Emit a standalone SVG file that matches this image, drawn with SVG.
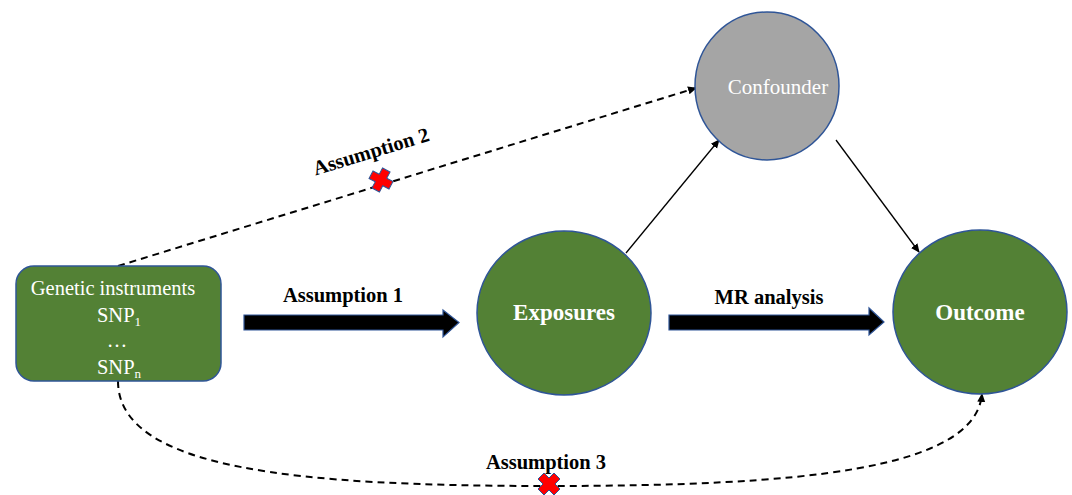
<svg xmlns="http://www.w3.org/2000/svg" width="1072" height="495" viewBox="0 0 1072 495">
<style>
.node{fill:#538135;stroke:#2F5597;stroke-width:1.5}
.conf{fill:#A5A5A5;stroke:#2F5597;stroke-width:1.5}
text{font-family:'Liberation Serif','Times New Roman',Times,'DejaVu Serif',serif}
.wt{fill:#fff;text-anchor:middle}
.lbl{fill:#000;font-weight:bold;font-size:20.5px;text-anchor:middle}
.dash{fill:none;stroke:#000;stroke-width:2;stroke-dasharray:7,5}
.thin{fill:none;stroke:#000;stroke-width:1.3}
.block{fill:#000;stroke:#2F5597;stroke-width:1.2}
.cross{fill:#FF0000;stroke:#2F5597;stroke-width:1}
</style>
<defs>
<marker id="ah" markerWidth="10" markerHeight="10" refX="8" refY="5" orient="auto" markerUnits="userSpaceOnUse">
<path d="M0,1 L9,5 L0,9 Z" fill="#000"/>
</marker>
<path id="x" d="M-5,-11 L0,-6 L5,-11 L11,-5 L6,0 L11,5 L5,11 L0,6 L-5,11 L-11,5 L-6,0 L-11,-5 Z"/>
</defs>
<rect width="1072" height="495" fill="#fff"/>
<g id="connectors">
<path class="dash" d="M118,266 L696,88" marker-end="url(#ah)"/>
<path class="dash" d="M118,381 C118,470 300,486 549,486 C800,486 975,470 982,394" marker-end="url(#ah)"/>
<path class="thin" d="M626,253 L719,140" marker-end="url(#ah)"/>
<path class="thin" d="M836,140 L919,252" marker-end="url(#ah)"/>
<path class="block" d="M244,315 L443,315 L443,310 L459,322.5 L443,337 L443,330 L244,330 Z"/>
<path class="block" d="M669,315 L869,315 L869,308 L884,322 L869,335 L869,330 L669,330 Z"/>
<use href="#x" class="cross" transform="translate(381,180) rotate(-17)"/>
<use href="#x" class="cross" transform="translate(549,484)"/>
<text class="lbl" x="343" y="302">Assumption 1</text>
<text class="lbl" x="769" y="304">MR analysis</text>
<text class="lbl" transform="translate(373,158) rotate(-17)">Assumption 2</text>
<text class="lbl" x="546" y="469">Assumption 3</text>
</g>
<g id="genetic">
<rect class="node" x="16" y="266" width="205" height="115" rx="18"/>
<text class="wt" font-size="20.5" x="113" y="295">Genetic instruments</text>
<text class="wt" font-size="20.5" x="119" y="322">SNP<tspan font-size="13" dy="4">1</tspan></text>
<text class="wt" font-size="20.5" x="117" y="347">…</text>
<text class="wt" font-size="20.5" x="119" y="374">SNP<tspan font-size="13" dy="4">n</tspan></text>
</g>
<g id="exposures">
<ellipse class="node" cx="564" cy="313" rx="87" ry="82"/>
<text class="wt" font-size="23" font-weight="bold" x="564" y="320">Exposures</text>
</g>
<g id="outcome">
<ellipse class="node" cx="980" cy="312" rx="87" ry="82"/>
<text class="wt" font-size="23" font-weight="bold" x="980" y="320">Outcome</text>
</g>
<g id="confounder">
<ellipse class="conf" cx="767" cy="86" rx="72" ry="74"/>
<text class="wt" font-size="21" x="778" y="94">Confounder</text>
</g>
</svg>
